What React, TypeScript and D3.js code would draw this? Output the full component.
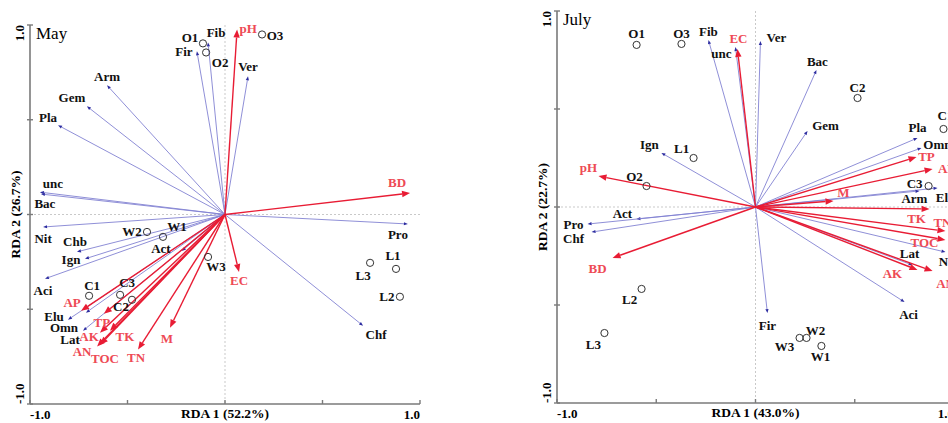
import React from 'react';
import * as d3 from 'd3';

const W = 948;
const H = 423;

// ---------- May ----------
const mayTaxa = ['Fib', 'Fir', 'Arm', 'Gem', 'Pla', 'unc', 'Bac', 'Ver', 'Pro', 'Chf', 'Nit', 'Chb', 'Ign', 'Act', 'Aci', 'Elu', 'Omn', 'Lat'];
const mayTaxaX = [-0.087, -0.144, -0.605, -0.708, -0.856, -0.949, -0.944, 0.118, 0.938, 0.708, -0.933, -0.759, -0.718, -0.221, -0.923, -0.805, -0.713, -0.728];
const mayTaxaY = [0.908, 0.861, 0.682, 0.571, 0.471, 0.118, 0.108, 0.729, -0.05, -0.587, -0.066, -0.197, -0.234, -0.192, -0.339, -0.555, -0.518, -0.613];

const mayEnv = ['pH', 'BD', 'EC', 'AP', 'TP', 'AK', 'TK', 'AN', 'TOC', 'TN', 'M'];
const mayEnvX = [0.062, 0.949, 0.072, -0.738, -0.621, -0.641, -0.59, -0.656, -0.641, -0.446, -0.282];
const mayEnvY = [0.976, 0.113, -0.303, -0.508, -0.524, -0.624, -0.613, -0.697, -0.687, -0.713, -0.597];

const maySites = ['O1', 'O2', 'O3', 'W1', 'W2', 'W3', 'C1', 'C2', 'C3', 'L1', 'L2', 'L3'];
const maySitesX = [-0.113, -0.097, 0.19, -0.318, -0.4, -0.087, -0.697, -0.477, -0.538, 0.877, 0.897, 0.744];
const maySitesY = [0.903, 0.855, 0.95, -0.118, -0.092, -0.224, -0.429, -0.45, -0.424, -0.287, -0.434, -0.255];

// ---------- July ----------
const julTaxa = ['Fib', 'unc', 'Ver', 'Bac', 'Gem', 'Pla', 'Omn', 'Elu', 'Arm', 'Nit', 'Lat', 'Aci', 'Fir', 'Ign', 'Act', 'Pro', 'Chf'];
const julTaxaX = [-0.237, -0.101, 0.025, 0.307, 0.262, 0.816, 0.836, 0.917, 0.826, 0.957, 0.791, 0.751, 0.06, -0.474, -0.6, -0.846, -0.826];
const julTaxaY = [0.852, 0.816, 0.847, 0.699, 0.388, 0.352, 0.301, 0.097, 0.082, -0.23, -0.296, -0.485, -0.541, 0.276, -0.061, -0.087, -0.128];

const julEnv = ['EC', 'pH', 'BD', 'TP', 'AP', 'M', 'TK', 'TN', 'TOC', 'AK', 'AN'];
const julEnvX = [-0.091, -0.791, -0.72, 0.811, 0.892, 0.393, 0.877, 0.957, 0.957, 0.816, 0.892];
const julEnvY = [0.806, 0.158, -0.26, 0.255, 0.194, 0.031, -0.01, -0.123, -0.168, -0.321, -0.327];

const julSites = ['O1', 'O2', 'O3', 'W1', 'W2', 'W3', 'C1', 'C2', 'C3', 'L1', 'L2', 'L3'];
const julSitesX = [-0.599, -0.549, -0.373, 0.332, 0.257, 0.222, 0.947, 0.514, 0.872, -0.312, -0.574, -0.761];
const julSitesY = [0.827, 0.107, 0.832, -0.709, -0.668, -0.668, 0.398, 0.556, 0.107, 0.25, -0.418, -0.643];

const tickValues = [-1, -0.5, 0, 0.5, 1];

// label offsets (pixels, from point/arrow tip to label centre)
const mayOffsets: Record<string, [number, number]> = {
  Fib: [8, -10], Fir: [-13, 0], Arm: [0, -9], Gem: [-15, -9], Pla: [-10, -8], unc: [13, -9], Bac: [4, 9],
  Ver: [0, -10], Pro: [-10, 10], Chf: [13, 9], Nit: [0, 11], Chb: [-2, -10], Ign: [-14, 1], Act: [-21, -2],
  Aci: [-2, 12], Elu: [-14, -3], Omn: [-22, 15], Lat: [-13, 9],
  pH: [11, -1], BD: [-13, -11], EC: [0, 9], AP: [-9, -8], TP: [-2, 9], AK: [-11, 4], TK: [15, 6],
  AN: [-15, 5], TOC: [5, 14], TN: [-2, 8], M: [-3, 11],
  O1: [-13, -6], O2: [14, 10], O3: [13, 1], W1: [14, -10], W2: [-15, 0], W3: [8, 10],
  C1: [3, -10], C2: [-11, 7], C3: [7, -12], L1: [-3, -13], L2: [-13, 0], L3: [-7, 13],
};

const julOffsets: Record<string, [number, number]> = {
  Fib: [0, -9], unc: [-14, 6], Ver: [16, -4], Bac: [1, -9], Gem: [18, -6], Pla: [0, -11], Omn: [16, -4],
  Elu: [8, 9], Arm: [-5, 8], Nit: [2, 9], Lat: [-3, -12], Aci: [4, 12], Fir: [0, 12], Ign: [-12, -8],
  Act: [-14, -6], Pro: [-14, 0], Chf: [-18, 6],
  EC: [1, -11], pH: [-10, -9], BD: [-15, 10], TP: [10, -1], AP: [14, -1], M: [10, -8], TK: [-13, 9],
  TN: [-3, -9], TOC: [-21, 3], AK: [-25, 4], AN: [13, 12],
  O1: [0, -11], O2: [-12, -10], O3: [0, -10], W1: [-1, 10], W2: [9, -7], W3: [-15, 9],
  C1: [2, -14], C2: [0, -11], C3: [-14, -3], L1: [-12, -10], L2: [-12, 11], L3: [-11, 11],
};

const FONT = "'Liberation Serif', 'Times New Roman', serif";
const BLUE_LINE = '#8282d2';
const BLUE_HEAD = '#2c2ca0';
const RED_LINE = '#e81c34';
const RED_TEXT = '#ee4a55';
const AXIS = '#7a7a7a';

function head(x1: number, y1: number, x2: number, y2: number, len: number, w: number) {
  const a = Math.atan2(y2 - y1, x2 - x1);
  const c = Math.cos(a), s = Math.sin(a);
  const bx = x2 - len * c, by = y2 - len * s;
  return {
    points: `${x2},${y2} ${bx + w * s},${by - w * c} ${bx - w * s},${by + w * c}`,
    bx, by,
  };
}

type PanelProps = {
  xRange: [number, number];
  yRange: [number, number];
  title: string;
  xTitle: string;
  yTitle: string;
  taxa: string[]; taxaX: number[]; taxaY: number[];
  env: string[]; envX: number[]; envY: number[];
  sites: string[]; sitesX: number[]; sitesY: number[];
  offsets: Record<string, [number, number]>;
};

function Panel(p: PanelProps) {
  const x = d3.scaleLinear().domain([-1, 1]).range(p.xRange);
  const y = d3.scaleLinear().domain([-1, 1]).range(p.yRange);
  const x0 = x(0), y0 = y(0);
  const left = x(-1), right = x(1), top = y(1), bottom = y(-1);
  const lbl = (name: string, px: number, py: number, color: string, key: string) => {
    const o = p.offsets[name] || [0, 0];
    return (
      <text key={key} x={px + o[0]} y={py + o[1]} dy="0.35em" textAnchor="middle"
        fontFamily={FONT} fontWeight="bold" fontSize={13} fill={color}>{name}</text>
    );
  };
  return (
    <g>
      {/* zero lines */}
      <line x1={left} x2={right} y1={y0} y2={y0} stroke="#c9c9c9" strokeDasharray="2,2" strokeWidth={1} />
      <line x1={x0} x2={x0} y1={top} y2={bottom} stroke="#c9c9c9" strokeDasharray="2,2" strokeWidth={1} />
      {/* axes */}
      <line x1={left} x2={left} y1={top} y2={bottom} stroke={AXIS} strokeWidth={1.6} />
      <line x1={left} x2={right} y1={bottom} y2={bottom} stroke={AXIS} strokeWidth={1.6} />
      {tickValues.map((t) => (
        <g key={'t' + t}>
          <line x1={x(t)} x2={x(t)} y1={bottom} y2={bottom - 4} stroke={AXIS} strokeWidth={1.4} />
          <line x1={left - 3} x2={left + 3} y1={y(t)} y2={y(t)} stroke={AXIS} strokeWidth={1.4} />
        </g>
      ))}
      <text x={left} y={bottom + 15} fontFamily={FONT} fontWeight="bold" fontSize={13}>-1.0</text>
      <text x={right} y={bottom + 15} textAnchor="end" fontFamily={FONT} fontWeight="bold" fontSize={13}>1.0</text>
      <text transform={`translate(${left - 6},${top}) rotate(-90)`} textAnchor="end" fontFamily={FONT} fontWeight="bold" fontSize={13}>1.0</text>
      <text transform={`translate(${left - 6},${bottom}) rotate(-90)`} textAnchor="start" fontFamily={FONT} fontWeight="bold" fontSize={13}>-1.0</text>
      <text x={x0} y={bottom + 14} textAnchor="middle" fontFamily={FONT} fontWeight="bold" fontSize={13.5}>{p.xTitle}</text>
      <text transform={`translate(${left - 10},${y0}) rotate(-90)`} textAnchor="middle" fontFamily={FONT} fontWeight="bold" fontSize={13.5}>{p.yTitle}</text>
      <text x={left + 6} y={top + 14} fontFamily={FONT} fontSize={17}>{p.title}</text>

      {/* taxa arrows */}
      {p.taxa.map((n, i) => {
        const tx = x(p.taxaX[i]), ty = y(p.taxaY[i]);
        const h = head(x0, y0, tx, ty, 4, 1.6);
        return (
          <g key={'ta' + n}>
            <line x1={x0} y1={y0} x2={h.bx} y2={h.by} stroke={BLUE_LINE} strokeWidth={0.9} />
            <polygon points={h.points} fill={BLUE_HEAD} />
          </g>
        );
      })}
      {/* env arrows */}
      {p.env.map((n, i) => {
        const tx = x(p.envX[i]), ty = y(p.envY[i]);
        const h = head(x0, y0, tx, ty, 8, 3.2);
        return (
          <g key={'ea' + n}>
            <line x1={x0} y1={y0} x2={h.bx} y2={h.by} stroke={RED_LINE} strokeWidth={1.4} />
            <polygon points={h.points} fill={RED_LINE} />
          </g>
        );
      })}
      {/* sites */}
      {p.sites.map((n, i) => (
        <circle key={'sc' + n} cx={x(p.sitesX[i])} cy={y(p.sitesY[i])} r={3.6} fill="none" stroke="#333" strokeWidth={1} />
      ))}
      {/* labels */}
      {p.taxa.map((n, i) => lbl(n, x(p.taxaX[i]), y(p.taxaY[i]), '#111', 'tl' + n))}
      {p.env.map((n, i) => lbl(n, x(p.envX[i]), y(p.envY[i]), RED_TEXT, 'el' + n))}
      {p.sites.map((n, i) => lbl(n, x(p.sitesX[i]), y(p.sitesY[i]), '#111', 'sl' + n))}
    </g>
  );
}

export default function App() {
  return (
    <svg width={W} height={H} viewBox={`0 0 ${W} ${H}`}
      style={{ position: 'absolute', left: 0, top: 0, background: '#fff' }}>
      <rect x={0} y={0} width={W} height={H} fill="#fff" />
      <Panel xRange={[30, 420]} yRange={[404, 25]} title="May" xTitle="RDA 1 (52.2%)" yTitle="RDA 2 (26.7%)"
        taxa={mayTaxa} taxaX={mayTaxaX} taxaY={mayTaxaY}
        env={mayEnv} envX={mayEnvX} envY={mayEnvY}
        sites={maySites} sitesX={maySitesX} sitesY={maySitesY} offsets={mayOffsets} />
      <Panel xRange={[557, 954]} yRange={[403, 11]} title="July" xTitle="RDA 1 (43.0%)" yTitle="RDA 2 (22.7%)"
        taxa={julTaxa} taxaX={julTaxaX} taxaY={julTaxaY}
        env={julEnv} envX={julEnvX} envY={julEnvY}
        sites={julSites} sitesX={julSitesX} sitesY={julSitesY} offsets={julOffsets} />
    </svg>
  );
}
